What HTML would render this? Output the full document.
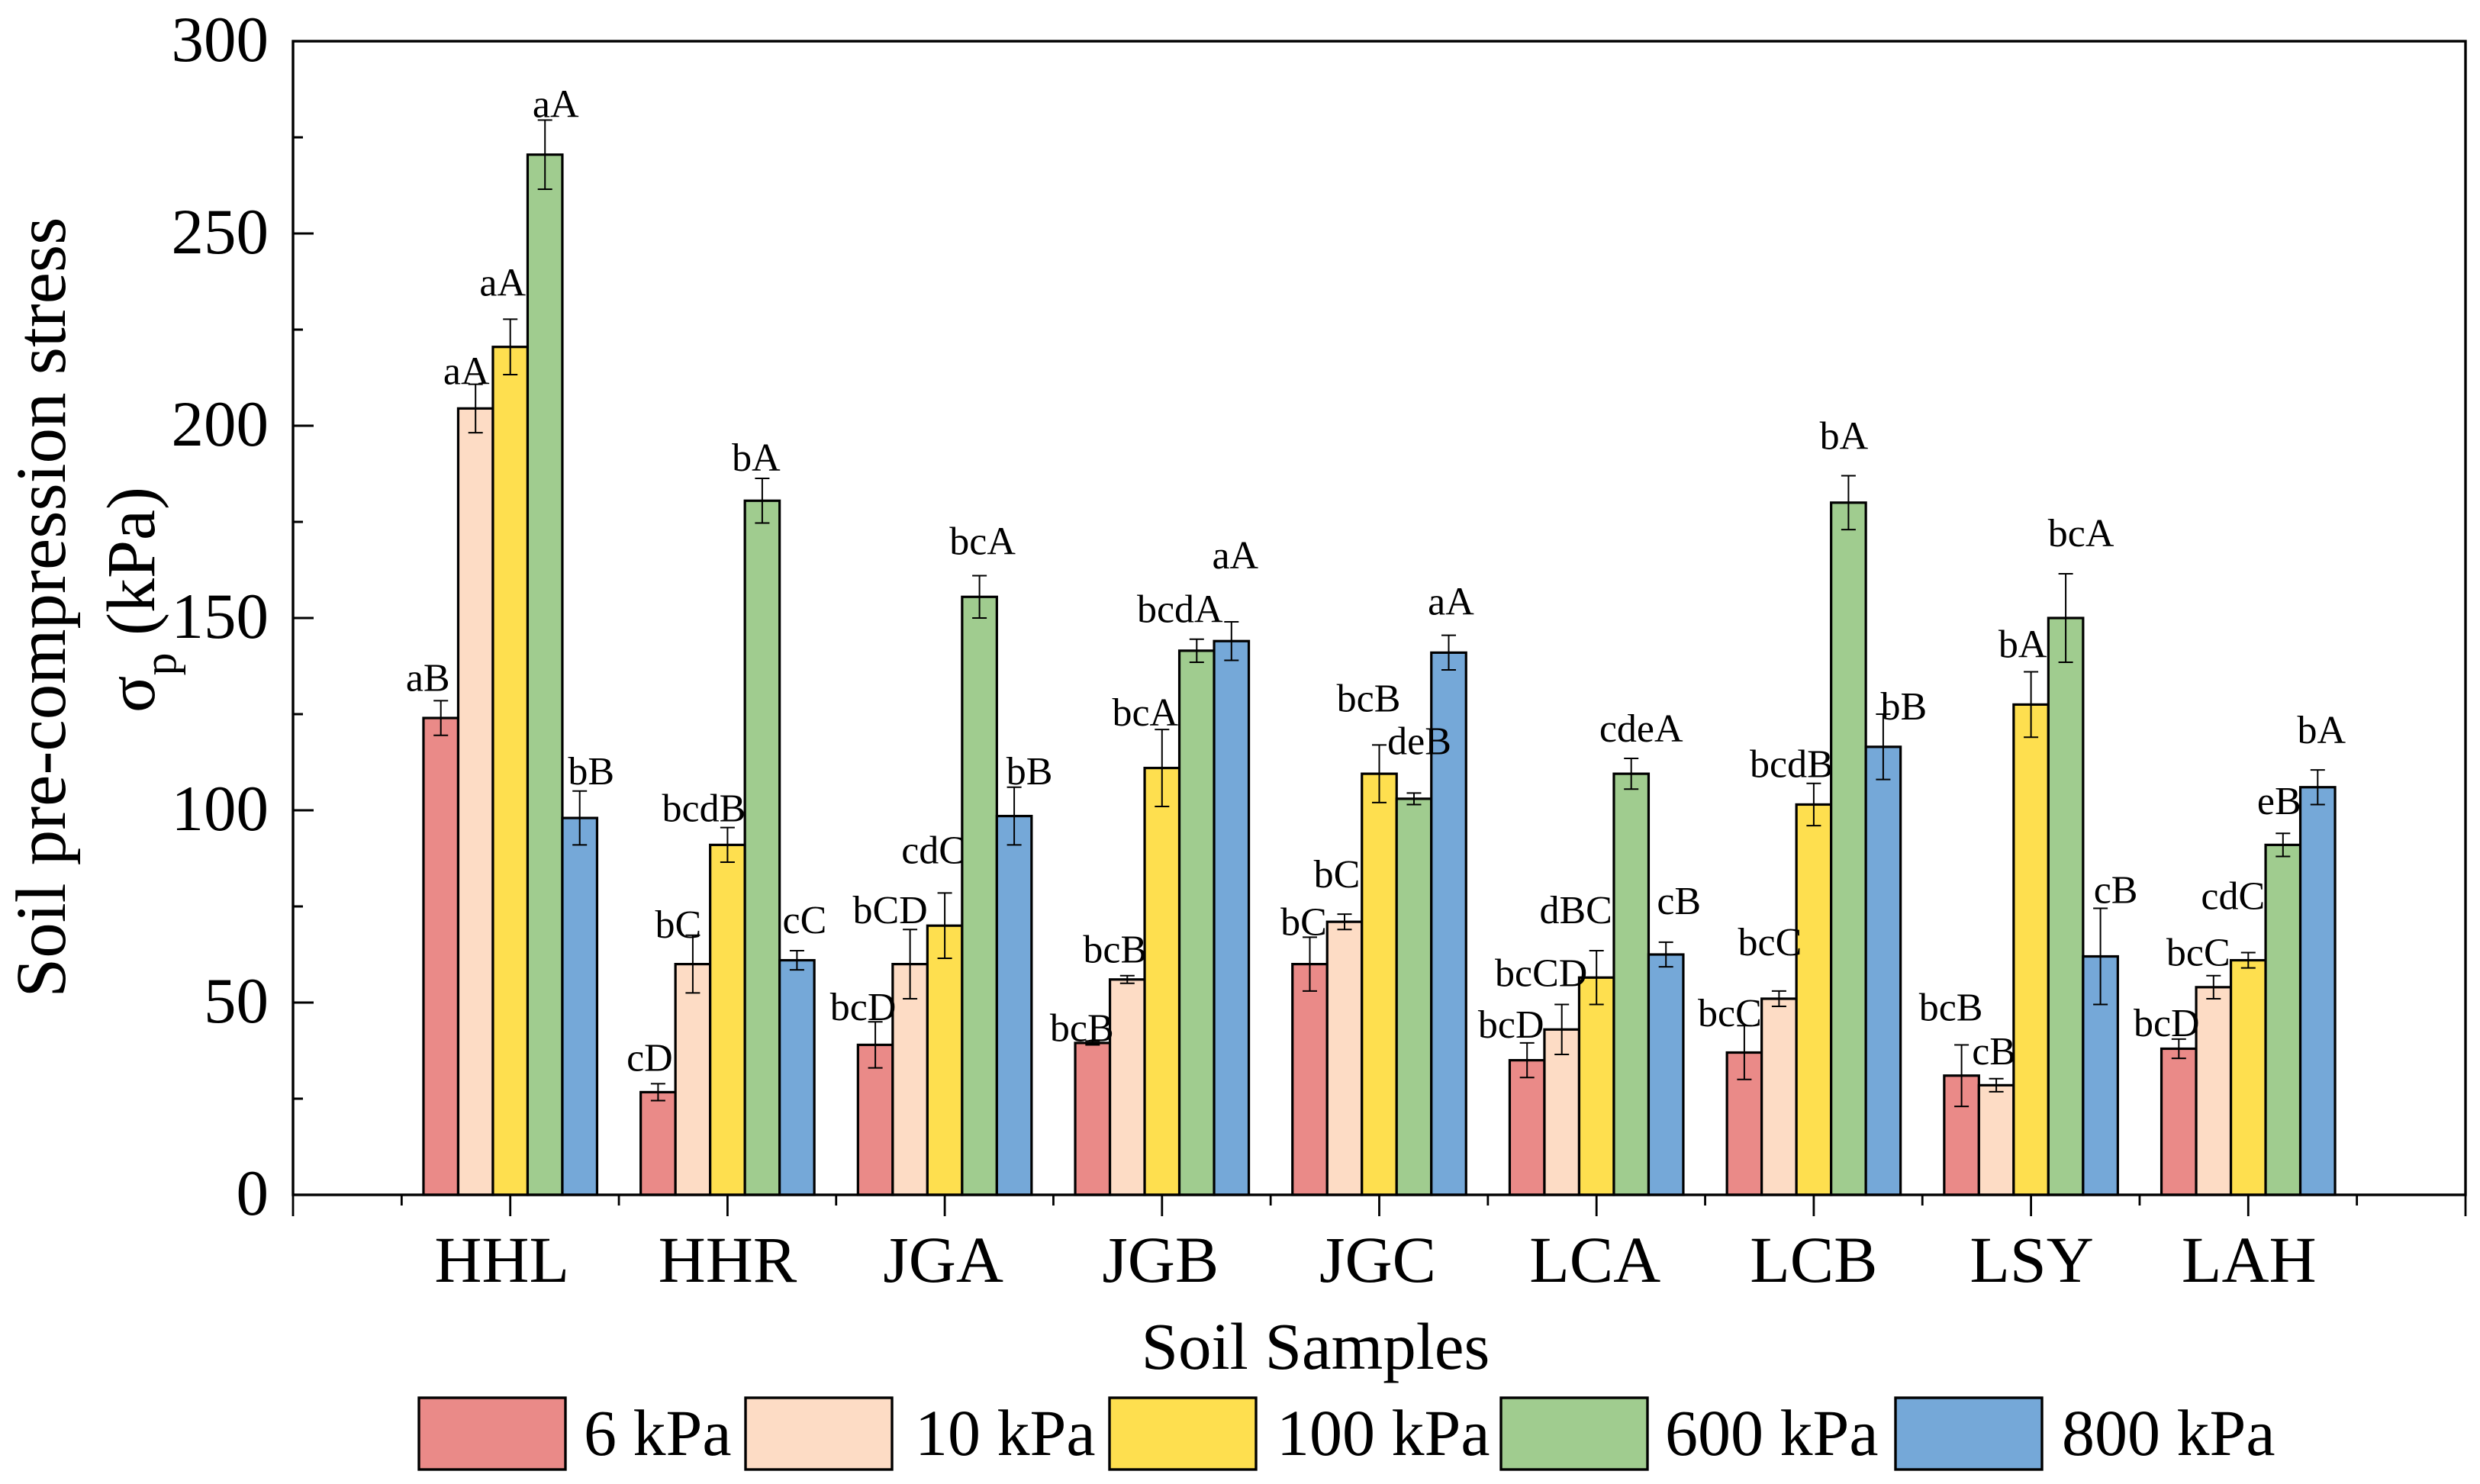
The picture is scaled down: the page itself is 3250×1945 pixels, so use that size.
<!DOCTYPE html>
<html lang="en">
<head>
<meta charset="utf-8">
<title>Soil pre-compression stress</title>
<style>
html,body{margin:0;padding:0;background:#fff;}
svg{display:block;font-family:"Liberation Serif",serif;fill:#000;}
</style>
</head>
<body>
<svg id="chart" xmlns="http://www.w3.org/2000/svg" width="3250" height="1945" viewBox="0 0 3250 1945">
<rect width="3250" height="1945" fill="#fff"/>
<g id="bars"></g>
<g id="errors"></g>
<g id="axes"></g>
<g id="sig"></g>
<text transform="translate(85,796) rotate(-90)" text-anchor="middle" font-size="93">Soil pre-compression stress</text>
<text transform="translate(202,786) rotate(-90)" text-anchor="middle" font-size="90">σ<tspan font-size="60" dy="28">p</tspan><tspan dy="-28"> (kPa)</tspan></text>
<text x="1724" y="1794" text-anchor="middle" font-size="87">Soil Samples</text>
<g id="legend"></g>
</svg>
<script>
const categories = ["HHL","HHR","JGA","JGB","JGC","LCA","LCB","LSY","LAH"];
const seriesNames = ["6 kPa","10 kPa","100 kPa","600 kPa","800 kPa"];
const seriesColors = ["#EA8A88","#FDDCC5","#FEDF4F","#A0CC8F","#75A8D8"];
const values6   = [124, 26.7, 39, 39.5, 60, 35, 37, 31, 38];
const values10  = [204.5, 60, 60, 56, 71, 43, 51, 28.5, 54];
const values100 = [220.5, 91, 70, 111, 109.5, 56.5, 101.5, 127.5, 61];
const values600 = [270.5, 180.5, 155.5, 141.5, 103, 109.5, 180, 150, 91];
const values800 = [98, 61, 98.5, 144, 141, 62.5, 116.5, 62, 106];
const errors6   = [4.5, 2.2, 6, 0.5, 7, 4.5, 7, 8, 2.5];
const errors10  = [6.3, 7.5, 9, 1, 2, 6.5, 2, 1.7, 3];
const errors100 = [7.2, 4.5, 8.5, 10, 7.5, 7, 5.5, 8.5, 2];
const errors600 = [9, 5.8, 5.5, 3, 1.5, 4, 7, 11.5, 3];
const errors800 = [7, 2.5, 7.5, 5, 4.5, 3.2, 8.5, 12.5, 4.5];
const labels6   = ["aB","cD","bcD","bcB","bC","bcD","bcC","bcB","bcD"];
const labels10  = ["aA","bC","bCD","bcB","bC","bcCD","bcC","cB","bcC"];
const labels100 = ["aA","bcdB","cdC","bcA","bcB","dBC","bcdB","bA","cdC"];
const labels600 = ["aA","bA","bcA","bcdA","deB","cdeA","bA","bcA","eB"];
const labels800 = ["bB","cC","bB","aA","aA","cB","bB","cB","bA"];
const yTicks = [0,50,100,150,200,250,300];

const seriesValues = [values6,values10,values100,values600,values800];
const seriesErrors = [errors6,errors10,errors100,errors600,errors800];
const seriesLabels = [labels6,labels10,labels100,labels600,labels800];

/* layout constants */
const AX = {l:384, r:3231, t:54, b:1566, yMax:300, xMax:10};
const BAR_W = 45.5;
const labelShift = [
 [[-15,-13],[-10,0],[-8,-31],[16,-4],[17,-9]],
 [[-9,-17],[-17,3],[-29,-8],[-6,-10],[12,-23]],
 [[-14,-2],[-24,-8],[-13,-39],[6,-28],[22,-4]],
 [[-12,0],[-14,-17],[-20,-5],[-20,-22],[7,-70]],
 [[-6,-3],[-8,-35],[-12,-44],[9,-51],[5,-27]],
 [[-19,-7],[-25,-24],[-25,-36],[15,-22],[19,-37]],
 [[-17,1],[-10,-47],[-27,-8],[-4,-35],[29,7]],
 [[-12,-32],[-1,-19],[-9,-19],[22,-36],[22,-7]],
 [[-14,-4],[-18,-13],[-18,-57],[-3,-25],[7,-35]]
];
const LABEL_DX = -2;
const catShift = [-11,0,-2,-2,-2,-2,0,1,1];
const legendSwatchX = [549,977,1454,1967,2484];
const legendTextX = [765,1199,1673,2182,2702];

const NS = "http://www.w3.org/2000/svg";
const xScale = v => AX.l + (AX.r-AX.l)*v/AX.xMax;
const yScale = v => AX.b - (AX.b-AX.t)*v/AX.yMax;
function mk(parent,tag,attrs,txt){
  const el = document.createElementNS(NS,tag);
  for(const k in attrs) el.setAttribute(k,attrs[k]);
  if(txt!==undefined) el.textContent = txt;
  parent.appendChild(el);
  return el;
}
const barsG = document.getElementById('bars');
const errG = document.getElementById('errors');
const sigG = document.getElementById('sig');
const axG = document.getElementById('axes');
const legG = document.getElementById('legend');

categories.forEach((cat,g)=>{
  const cx = xScale(g+1);
  seriesNames.forEach((sn,s)=>{
    const v = seriesValues[s][g], e = seriesErrors[s][g];
    const bx = cx + (s-2.5)*BAR_W, bc = cx + (s-2)*BAR_W;
    const bar = mk(barsG,'rect',{x:bx,y:yScale(v),width:BAR_W,height:yScale(0)-yScale(v),fill:seriesColors[s],stroke:'#000','stroke-width':3.2});
    
    
    const eb = mk(errG,'path',{d:`M${bc-9.5} ${yScale(v+e)}H${bc+9.5}M${bc} ${yScale(v+e)}V${yScale(v-e)}M${bc-9.5} ${yScale(v-e)}H${bc+9.5}`,fill:'none',stroke:'#000','stroke-width':2});
    
    
    const sh = labelShift[g][s];
    const t = mk(sigG,'text',{x:bc+sh[0]+LABEL_DX,y:yScale(v+e)+sh[1],'text-anchor':'middle','font-size':52},seriesLabels[s][g]);
    
    
  });
  const lab = mk(axG,'text',{x:cx+catShift[g],y:1680,'text-anchor':'middle','font-size':86},cat);
  
  
});

const frame = mk(axG,'rect',{x:AX.l,y:AX.t,width:AX.r-AX.l,height:AX.b-AX.t,fill:'none',stroke:'#000','stroke-width':3.4});



for(let i=0;i<=AX.xMax*2;i++){
  const major = i%2===0, x = xScale(i/2);
  const tk = mk(axG,'line',{x1:x,x2:x,y1:AX.b,y2:AX.b+(major?28:14),stroke:'#000','stroke-width':2.8});
  
  
}
yTicks.forEach((v,i)=>{
  const y = yScale(v);
  const tk = mk(axG,'line',{x1:AX.l,x2:AX.l+27,y1:y,y2:y,stroke:'#000','stroke-width':3});
  
  
  const lb = mk(axG,'text',{x:352,y:y+26,'text-anchor':'end','font-size':85},String(v));
  
  
  if(i<yTicks.length-1){
    const my = yScale((v+yTicks[i+1])/2);
    const mt = mk(axG,'line',{x1:AX.l,x2:AX.l+13,y1:my,y2:my,stroke:'#000','stroke-width':3});
    
    
  }
});

seriesNames.forEach((sn,s)=>{
  const sw = mk(legG,'rect',{x:legendSwatchX[s],y:1832,width:192,height:94,fill:seriesColors[s],stroke:'#000','stroke-width':3.4});
  
  
  const tx = mk(legG,'text',{x:legendTextX[s],y:1907,'font-size':86},sn);
  
  
});
</script>
</body>
</html>
